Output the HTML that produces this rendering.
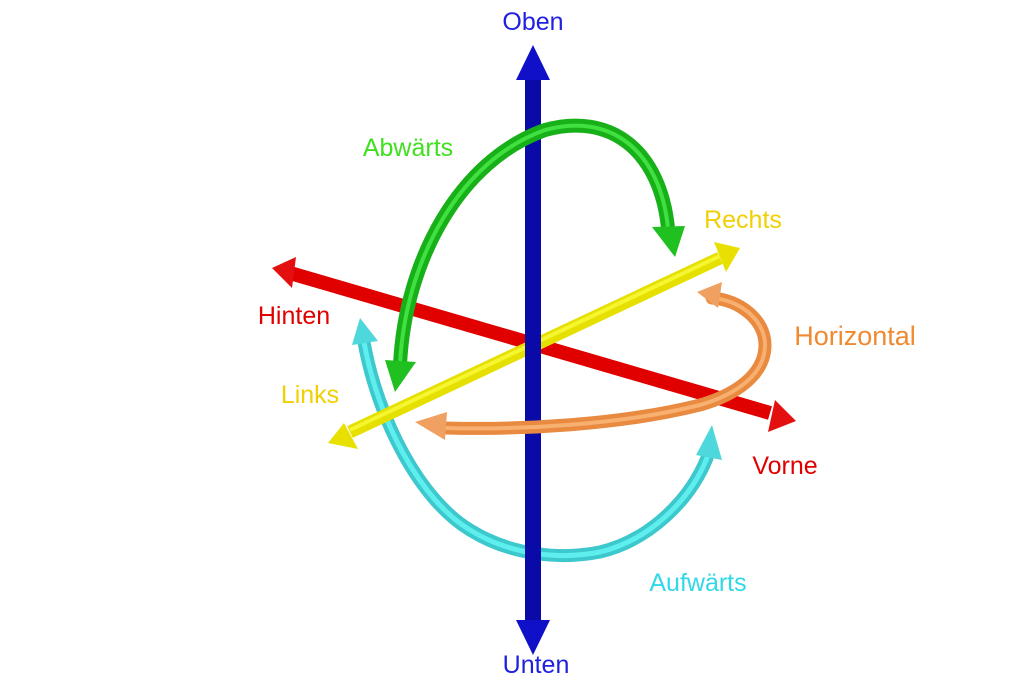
<!DOCTYPE html>
<html><head><meta charset="utf-8"><style>
html,body{margin:0;padding:0;background:#fff;}
svg{display:block;}
text{font-family:"Liberation Sans",sans-serif;font-size:25px;}
</style></head><body>
<svg width="1032" height="683" viewBox="0 0 1032 683" xmlns="http://www.w3.org/2000/svg">
<!-- cyan arc (behind) -->
<path d="M364,342 C378,420 420,500 470,530 C510,555 560,560 600,552 C650,540 690,500 707,458" fill="none" stroke="#3cc8cc" stroke-width="13" stroke-linecap="round"/>
<path d="M364,342 C378,420 420,500 470,530 C510,555 560,560 600,552 C650,540 690,500 707,458" fill="none" stroke="#5eeeee" stroke-width="5" stroke-linecap="round"/>
<polygon points="360,318 352,345 378,341" fill="#4fd8dc"/>
<polygon points="712,425 696,455 722,460" fill="#4fd8dc"/>
<!-- red axis -->
<line x1="290" y1="273" x2="770" y2="413" stroke="#e00000" stroke-width="14"/>
<polygon points="272,268 296,257 292,288" fill="#e41010"/>
<polygon points="796,421 768,432 775,400" fill="#e41010"/>
<!-- yellow axis -->
<line x1="350" y1="432" x2="720" y2="258" stroke="#e6e000" stroke-width="13"/>
<line x1="350" y1="430" x2="720" y2="256" stroke="#f5f530" stroke-width="4"/>
<polygon points="328,443 344,423 358,449" fill="#e8e000"/>
<polygon points="740,248 714,242 726,272" fill="#e8e000"/>
<!-- blue axis -->
<rect x="525" y="78" width="16" height="545" fill="#0a0aa8"/>
<polygon points="533,45 516,80 550,80" fill="#1010c8"/>
<polygon points="533,655 516,620 550,620" fill="#1010c8"/>
<!-- orange arc -->
<path d="M712,298 C740,300 765,320 765,345 C765,375 735,395 700,405 C620,425 520,430 445,428" fill="none" stroke="#e88a40" stroke-width="13" stroke-linecap="round"/>
<path d="M712,298 C740,300 765,320 765,345 C765,375 735,395 700,405 C620,425 520,430 445,428" fill="none" stroke="#f8b070" stroke-width="4" stroke-linecap="round"/>
<polygon points="415,422 447,412 445,440" fill="#f0a060"/>
<polygon points="697,292 722,282 718,308" fill="#f0a060"/>
<!-- green arc -->
<path d="M400,365 C405,260 460,160 545,130 C610,112 660,150 668,228" fill="none" stroke="#18b018" stroke-width="14" stroke-linecap="round"/>
<path d="M400,365 C405,260 460,160 545,130 C610,112 660,150 668,228" fill="none" stroke="#40e040" stroke-width="4" stroke-linecap="round"/>
<polygon points="395,392 385,360 416,362" fill="#20c020"/>
<polygon points="675,257 652,227 685,226" fill="#20c020"/>
<!-- labels -->
<text x="533" y="30" fill="#2020e0" text-anchor="middle">Oben</text>
<text x="408" y="156" fill="#40e020" text-anchor="middle">Abwärts</text>
<text x="743" y="228" fill="#f0d000" text-anchor="middle">Rechts</text>
<text x="294" y="324" fill="#e00000" text-anchor="middle">Hinten</text>
<text x="855" y="345" fill="#f08a30" text-anchor="middle" style="font-size:27px">Horizontal</text>
<text x="310" y="403" fill="#f0d000" text-anchor="middle">Links</text>
<text x="785" y="474" fill="#e00000" text-anchor="middle">Vorne</text>
<text x="698" y="591" fill="#30d8e8" text-anchor="middle">Aufwärts</text>
<text x="536" y="673" fill="#2020e0" text-anchor="middle">Unten</text>
</svg>
</body></html>
